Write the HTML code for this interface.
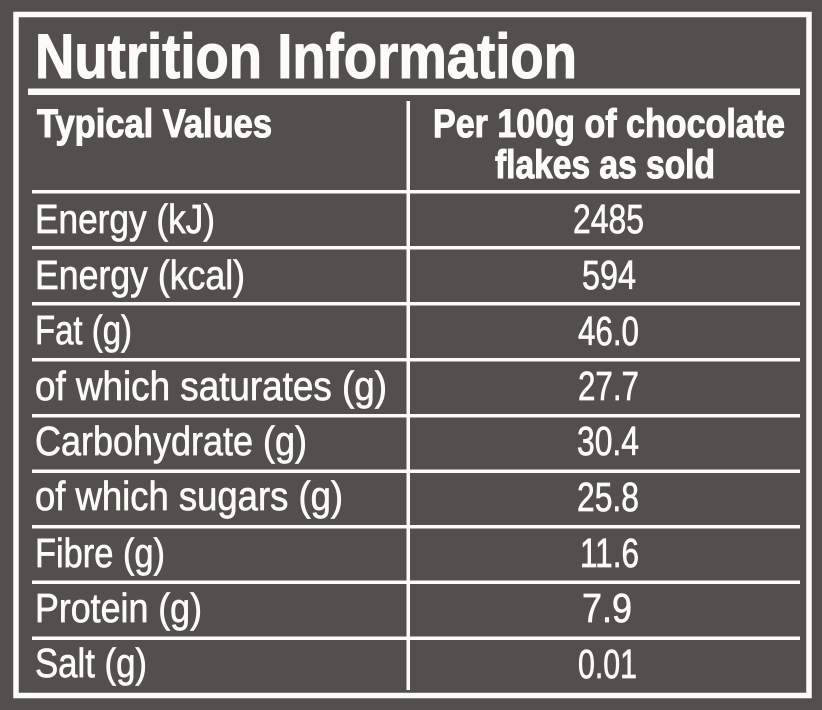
<!DOCTYPE html>
<html>
<head>
<meta charset="utf-8">
<style>
  html,body{margin:0;padding:0;background:#544f4c;}
  svg{display:block;}
  text{fill:#fdfbf7;font-family:"Liberation Sans",Arial,sans-serif;stroke:#fdfbf7;stroke-width:0.7;}
  .b{font-weight:bold;stroke-width:1.1;}
</style>
</head>
<body>
<svg width="822" height="710" viewBox="0 0 822 710" xmlns="http://www.w3.org/2000/svg">
  <rect x="0" y="0" width="822" height="710" fill="#544f4c"/>
  <!-- outer border -->
  <rect x="16" y="14.5" width="793" height="681" fill="none" stroke="#fdfbf7" stroke-width="5.5"/>
  <!-- title -->
  <text class="b" x="35" y="78" font-size="63" textLength="542" lengthAdjust="spacingAndGlyphs">Nutrition Information</text>
  <!-- title rule -->
  <rect x="28" y="88.5" width="772" height="6.5" fill="#fdfbf7"/>
  <!-- vertical divider -->
  <rect x="406.5" y="101" width="3.5" height="589" fill="#fdfbf7"/>
  <!-- header -->
  <text class="b" x="37" y="137" font-size="40" textLength="235" lengthAdjust="spacingAndGlyphs">Typical Values</text>
  <text class="b" x="433" y="137" font-size="40" textLength="352" lengthAdjust="spacingAndGlyphs">Per 100g of chocolate</text>
  <text class="b" x="495" y="178" font-size="40" textLength="220" lengthAdjust="spacingAndGlyphs">flakes as sold</text>
  <!-- row rules -->
  <g fill="#fdfbf7">
    <rect x="32" y="190" width="768" height="3.5"/>
    <rect x="32" y="246" width="768" height="3.5"/>
    <rect x="32" y="302" width="768" height="3.5"/>
    <rect x="32" y="358" width="768" height="3.5"/>
    <rect x="32" y="414" width="768" height="3.5"/>
    <rect x="32" y="469.5" width="768" height="3.5"/>
    <rect x="32" y="525" width="768" height="3.5"/>
    <rect x="32" y="580.5" width="768" height="3.5"/>
    <rect x="32" y="636.5" width="768" height="3.5"/>
  </g>
  <!-- labels -->
  <g font-size="41">
    <text x="35" y="233" textLength="180" lengthAdjust="spacingAndGlyphs">Energy (kJ)</text>
    <text x="35" y="289" textLength="210" lengthAdjust="spacingAndGlyphs">Energy (kcal)</text>
    <text x="35" y="344" textLength="97" lengthAdjust="spacingAndGlyphs">Fat (g)</text>
    <text x="35" y="400" textLength="352" lengthAdjust="spacingAndGlyphs">of which saturates (g)</text>
    <text x="35" y="455" textLength="272" lengthAdjust="spacingAndGlyphs">Carbohydrate (g)</text>
    <text x="35" y="510" textLength="308" lengthAdjust="spacingAndGlyphs">of which sugars (g)</text>
    <text x="35" y="567" textLength="130" lengthAdjust="spacingAndGlyphs">Fibre (g)</text>
    <text x="35" y="622" textLength="167" lengthAdjust="spacingAndGlyphs">Protein (g)</text>
    <text x="35" y="677" textLength="112" lengthAdjust="spacingAndGlyphs">Salt (g)</text>
  </g>
  <!-- values -->
  <g font-size="41">
    <text x="573" y="233" textLength="71" lengthAdjust="spacingAndGlyphs">2485</text>
    <text x="582" y="289" textLength="54" lengthAdjust="spacingAndGlyphs">594</text>
    <text x="578" y="345" textLength="61" lengthAdjust="spacingAndGlyphs">46.0</text>
    <text x="578" y="400" textLength="61" lengthAdjust="spacingAndGlyphs">27.7</text>
    <text x="577" y="455" textLength="62" lengthAdjust="spacingAndGlyphs">30.4</text>
    <text x="577" y="511" textLength="62" lengthAdjust="spacingAndGlyphs">25.8</text>
    <text x="580" y="567" textLength="59" lengthAdjust="spacingAndGlyphs">11.6</text>
    <text x="582" y="622" textLength="50" lengthAdjust="spacingAndGlyphs">7.9</text>
    <text x="578" y="678" textLength="59" lengthAdjust="spacingAndGlyphs">0.01</text>
  </g>
</svg>
</body>
</html>
